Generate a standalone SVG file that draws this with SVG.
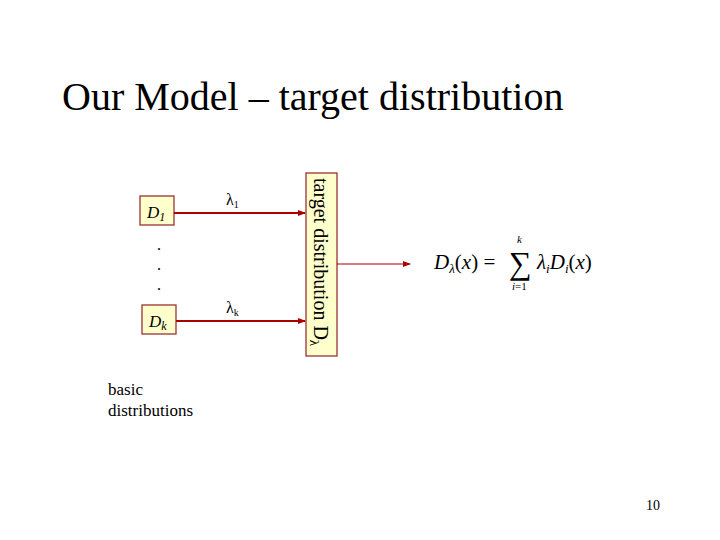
<svg xmlns="http://www.w3.org/2000/svg" width="720" height="540" viewBox="0 0 720 540">
<style>
text{font-family:"Liberation Serif","Times New Roman",Times,"DejaVu Serif",serif}
.box{fill:#ffffcc;stroke:#993333;stroke-width:1.3}
.ln{stroke:#aa0000;stroke-width:2;fill:none}
.th{stroke:#aa0000;stroke-width:1.2;fill:none}
</style>
<defs><marker id="ah" markerWidth="8" markerHeight="8" refX="7" refY="4" orient="auto" markerUnits="userSpaceOnUse"><path d="M0,1 L8,4 L0,7z" fill="#aa0000"/></marker></defs>
<rect width="720" height="540" fill="#fff"/>
<text x="62" y="110" font-size="40">Our Model – target distribution</text>
<g id="d1"><rect class="box" x="140" y="196" width="34" height="29"/><text x="147" y="218" font-size="17" font-style="italic">D<tspan font-size="12" dy="3">1</tspan></text></g>
<g id="dk"><rect class="box" x="142" y="305" width="34" height="29"/><text x="149" y="327" font-size="17" font-style="italic">D<tspan font-size="12" dy="3">k</tspan></text></g>
<g id="dots"><text x="157" y="250" font-size="16">.</text><text x="157" y="270" font-size="16">.</text><text x="157" y="290" font-size="16">.</text></g>
<g id="target"><rect class="box" x="306" y="173" width="31" height="183"/><text transform="translate(314,178) rotate(90)" font-size="20">target distribution D<tspan font-size="13" dy="4">λ</tspan></text></g>
<g id="connectors">
<line class="ln" x1="174" y1="213" x2="305" y2="213" marker-end="url(#ah)"/>
<line class="ln" x1="176" y1="321" x2="305" y2="321" marker-end="url(#ah)"/>
<line class="th" x1="337" y1="264" x2="410" y2="264" marker-end="url(#ah)"/>
<text x="226" y="205" font-size="16">λ<tspan font-size="10" dy="3">1</tspan></text>
<text x="226" y="313" font-size="16">λ<tspan font-size="10" dy="3">k</tspan></text>
</g>
<g id="formula" font-size="21">
<text x="434" y="269" font-style="italic">D<tspan font-size="13" dy="4">λ</tspan><tspan dy="-4" font-style="normal">(</tspan>x<tspan font-style="normal">) =</tspan></text>
<text x="509" y="274" font-size="32">∑</text>
<text x="517" y="243" font-size="11" font-style="italic">k</text>
<text x="512" y="290" font-size="11"><tspan font-style="italic">i</tspan>=1</text>
<text x="537" y="269" font-style="italic">λ<tspan font-size="13" dy="4">i</tspan><tspan dy="-4">D</tspan><tspan font-size="13" dy="4">i</tspan><tspan dy="-4" font-style="normal">(</tspan>x<tspan font-style="normal">)</tspan></text>
</g>
<text x="108" y="395" font-size="17">basic</text>
<text x="108" y="416" font-size="17">distributions</text>
<text x="646" y="510" font-size="14">10</text>
</svg>
